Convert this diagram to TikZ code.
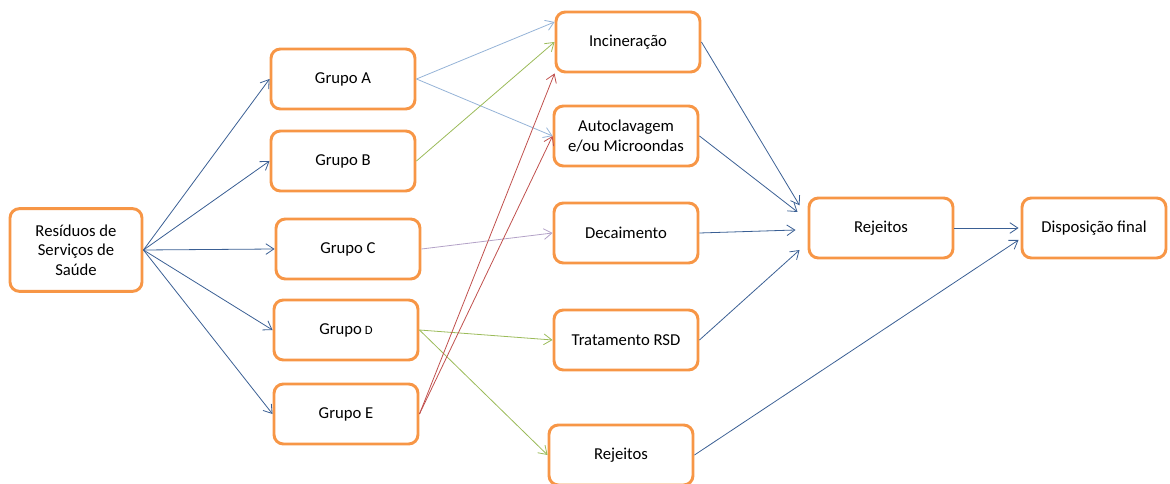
\documentclass[tikz,border=0pt]{standalone}
\usepackage{fontspec}
\setmainfont{Carlito}
\usetikzlibrary{arrows.meta}
\definecolor{boxorange}{HTML}{F79646}
\definecolor{darkline}{HTML}{3A5F94}
\definecolor{lightblue}{HTML}{95B3D7}
\definecolor{lightgreen}{HTML}{9BBB59}
\definecolor{darkred}{HTML}{C0504D}
\definecolor{lavender}{HTML}{B3A2C7}
\begin{document}
\begin{tikzpicture}[x=0.75pt, y=-0.75pt, font=\fontsize{12.5}{14.5}\selectfont,
    box/.style={draw=boxorange, line width=2.2pt, rounded corners=7pt, fill=white,
                minimum width=108pt, minimum height=45pt, align=center},
    link/.style={line width=0.6pt, -{Straight Barb[length=6pt,width=8pt]}}]
              \useasboundingbox (0,0) rectangle (1170,484);

              \node [box, minimum width=99pt, minimum height=62pt] (rss) at (76,250) {Resíduos de\\Serviços de\\Saúde};

              \node [box] (ga) at (343,79) {Grupo A};
              \node [box] (gb) at (343,161) {Grupo B};
              \node [box] (gc) at (348,249) {Grupo C};
              \node [box] (gd) at (346,330) {Grupo\,{\fontsize{9.5}{11}\selectfont D}};
              \node [box] (ge) at (346,414) {Grupo E};

              \node [box] (incin) at (628,42) {Incineração};
              \node [box] (auto) at (626,136) {Autoclavagem\\e/ou Microondas};
              \node [box] (decai) at (626,233) {Decaimento};
              \node [box] (trat) at (626,340) {Tratamento RSD};
              \node [box] (rejb) at (621,455) {Rejeitos};

              \node [box] (rej) at (881,228) {Rejeitos};
              \node [box] (disp) at (1094,228) {Disposição final};

              \foreach \g in {ga,gb,gc,gd,ge}
                \draw [link, darkline] (rss.east) -- (\g.west);

              \draw [link, lightblue] (ga.east) -- ([yshift=15pt]incin.west);
              \draw [link, lightblue] (ga.east) -- (auto.west);
              \draw [link, lightgreen] (gb.east) -- (incin.west);
              \draw [link, lavender] (gc.east) -- (decai.west);
              \draw [link, lightgreen] (gd.east) -- (trat.west);
              \draw [link, lightgreen] (gd.east) -- (rejb.west);
              \draw [link, darkred] (ge.east) -- (incin.south west);
              \draw [link, darkred] (ge.east) -- (auto.west);

              \draw [link, darkline] (incin.east) -- ([xshift=-6pt,yshift=17pt]rej.west);
              \draw [link, darkline] (auto.east) -- ([xshift=-7.5pt,yshift=12pt]rej.west);
              \draw [link, darkline] (decai.east) -- ([xshift=-9pt,yshift=-1.5pt]rej.west);
              \draw [link, darkline] (trat.east) -- ([xshift=-6pt,yshift=-16.5pt]rej.west);

              \draw [link, darkline] (rej.east) -- ([xshift=-1.5pt]disp.west);
              \draw [link, darkline] (rejb.east) -- ([xshift=-1.5pt,yshift=-9pt]disp.west);

            \end{tikzpicture}
\end{document}
